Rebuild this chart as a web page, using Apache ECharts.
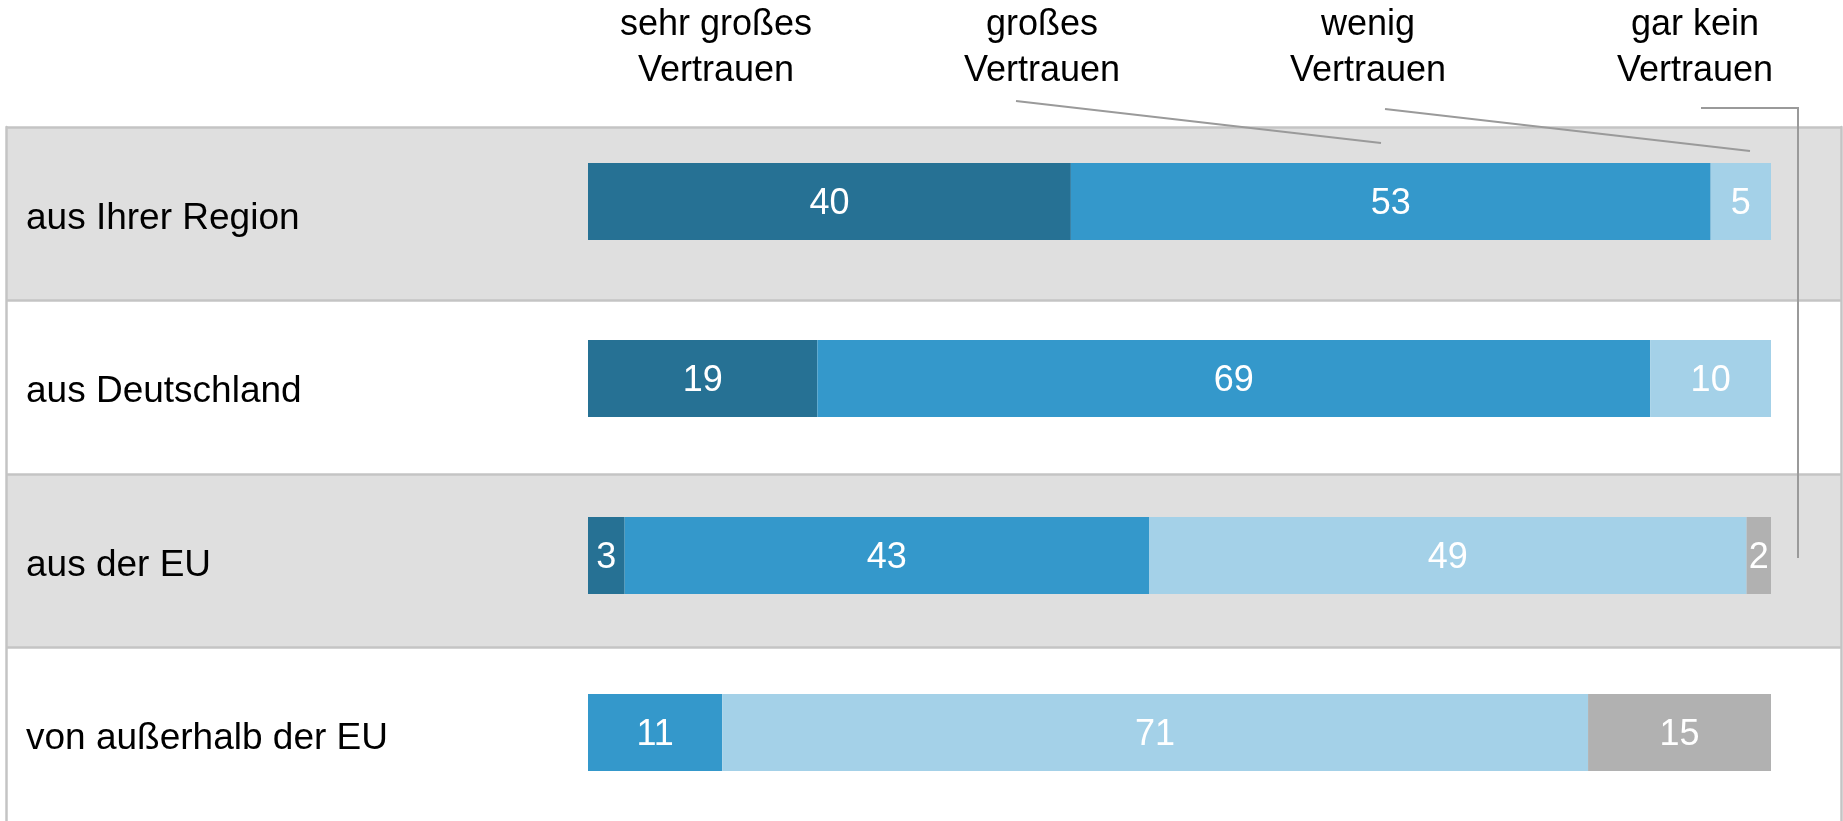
<!DOCTYPE html>
<html lang="de">
<head>
<meta charset="utf-8">
<title>Vertrauen</title>
<script src="https://cdn.jsdelivr.net/npm/echarts@6/dist/echarts.min.js"></script>
<style>
    html, body { margin: 0; padding: 0; background: #fff; }
    #chart { width: 1843px; height: 821px; }
</style>
</head>
<body>
<div id="chart"></div>
<script>
    // Kategorien (Zeilen) und Antwortstufen
    var categories = ['aus Ihrer Region', 'aus Deutschland', 'aus der EU', 'von außerhalb der EU'];
    var levels = ['sehr großes\nVertrauen', 'großes\nVertrauen', 'wenig\nVertrauen', 'gar kein\nVertrauen'];

    // Werte in Prozent
    var sehrGross = [40, 19, 3, 0];
    var gross = [53, 69, 43, 11];
    var wenig = [5, 10, 49, 71];
    var garKein = [0, 0, 2, 15];

    var colors = ['#267194', '#3498cb', '#a4d1e8', '#b1b1b1'];
    var font = '"Liberation Sans", Arial, sans-serif';
    var borderColor = '#c4c4c4';

    var raw = [sehrGross, gross, wenig, garKein];
    // Balken werden je Zeile auf 100 % gestreckt (ohne "weiß nicht")
    var totals = categories.map(function (c, i) {
        return raw.reduce(function (s, arr) { return s + arr[i]; }, 0);
    });

    var series = raw.map(function (arr, k) {
        return {
            name: levels[k],
            type: 'bar',
            stack: 'total',
            xAxisIndex: 0,
            yAxisIndex: 0,
            barWidth: 77,
            itemStyle: { color: colors[k] },
            label: {
                show: true,
                position: 'inside',
                offset: [0, 3],
                color: '#fff',
                fontSize: 36,
                fontFamily: font,
                formatter: function (p) {
                    var v = arr[p.dataIndex];
                    return v ? String(v) : '';
                }
            },
            emphasis: { disabled: true },
            data: arr.map(function (v, i) { return v / totals[i] * 100; })
        };
    });

    var headerX = [716, 1042, 1368, 1695];
    var graphics = levels.map(function (t, k) {
        return {
            type: 'text',
            x: headerX[k],
            y: 2,
            z: 10,
            style: {
                text: t,
                font: '36px ' + font,
                fill: '#000',
                align: 'center',
                verticalAlign: 'top',
                lineHeight: 46
            }
        };
    });
    // Hinweislinien
    var lineStyle = { stroke: '#9a9a9a', lineWidth: 2, fill: null };
    graphics.push(
        { type: 'polyline', z: 10, shape: { points: [[1016, 101], [1381, 143]] }, style: lineStyle },
        { type: 'polyline', z: 10, shape: { points: [[1385, 109], [1750, 151]] }, style: lineStyle },
        { type: 'polyline', z: 10, shape: { points: [[1701, 108], [1798, 108], [1798, 558]] }, style: lineStyle }
    );

    var myChart = echarts.init(document.getElementById('chart'));
    var option = {
        animation: false,
        backgroundColor: '#fff',
        grid: [
            { left: 588, right: 72, top: 113, height: 710 },
            { left: 6, right: 2, top: 127, height: 696 }
        ],
        xAxis: [
            { type: 'value', gridIndex: 0, min: 0, max: 100, show: false },
            { type: 'value', gridIndex: 1, min: 0, max: 100, show: false }
        ],
        yAxis: [
            { type: 'category', gridIndex: 0, inverse: true, data: categories, show: false },
            {
                type: 'category',
                gridIndex: 1,
                inverse: true,
                data: categories,
                axisLine: { show: true, lineStyle: { color: borderColor, width: 2.5 } },
                axisTick: { show: false },
                axisLabel: {
                    inside: true,
                    margin: 20,
                    align: 'left',
                    verticalAlign: 'top',
                    lineHeight: 10,
                    color: '#000',
                    fontSize: 37,
                    fontFamily: font
                },
                splitLine: {
                    show: true,
                    showMaxLine: false,
                    lineStyle: { color: borderColor, width: 2.5 }
                },
                splitArea: { show: true, areaStyle: { color: ['#dfdfdf', '#ffffff'] } }
            },
            {
                // rechter Rahmen
                type: 'category',
                gridIndex: 1,
                position: 'right',
                inverse: true,
                data: categories,
                axisLine: { show: true, lineStyle: { color: borderColor, width: 2.5 } },
                axisTick: { show: false },
                axisLabel: { show: false },
                splitLine: { show: false }
            }
        ],
        graphic: graphics,
        series: series
    };
    myChart.setOption(option);
</script>
</body>
</html>
